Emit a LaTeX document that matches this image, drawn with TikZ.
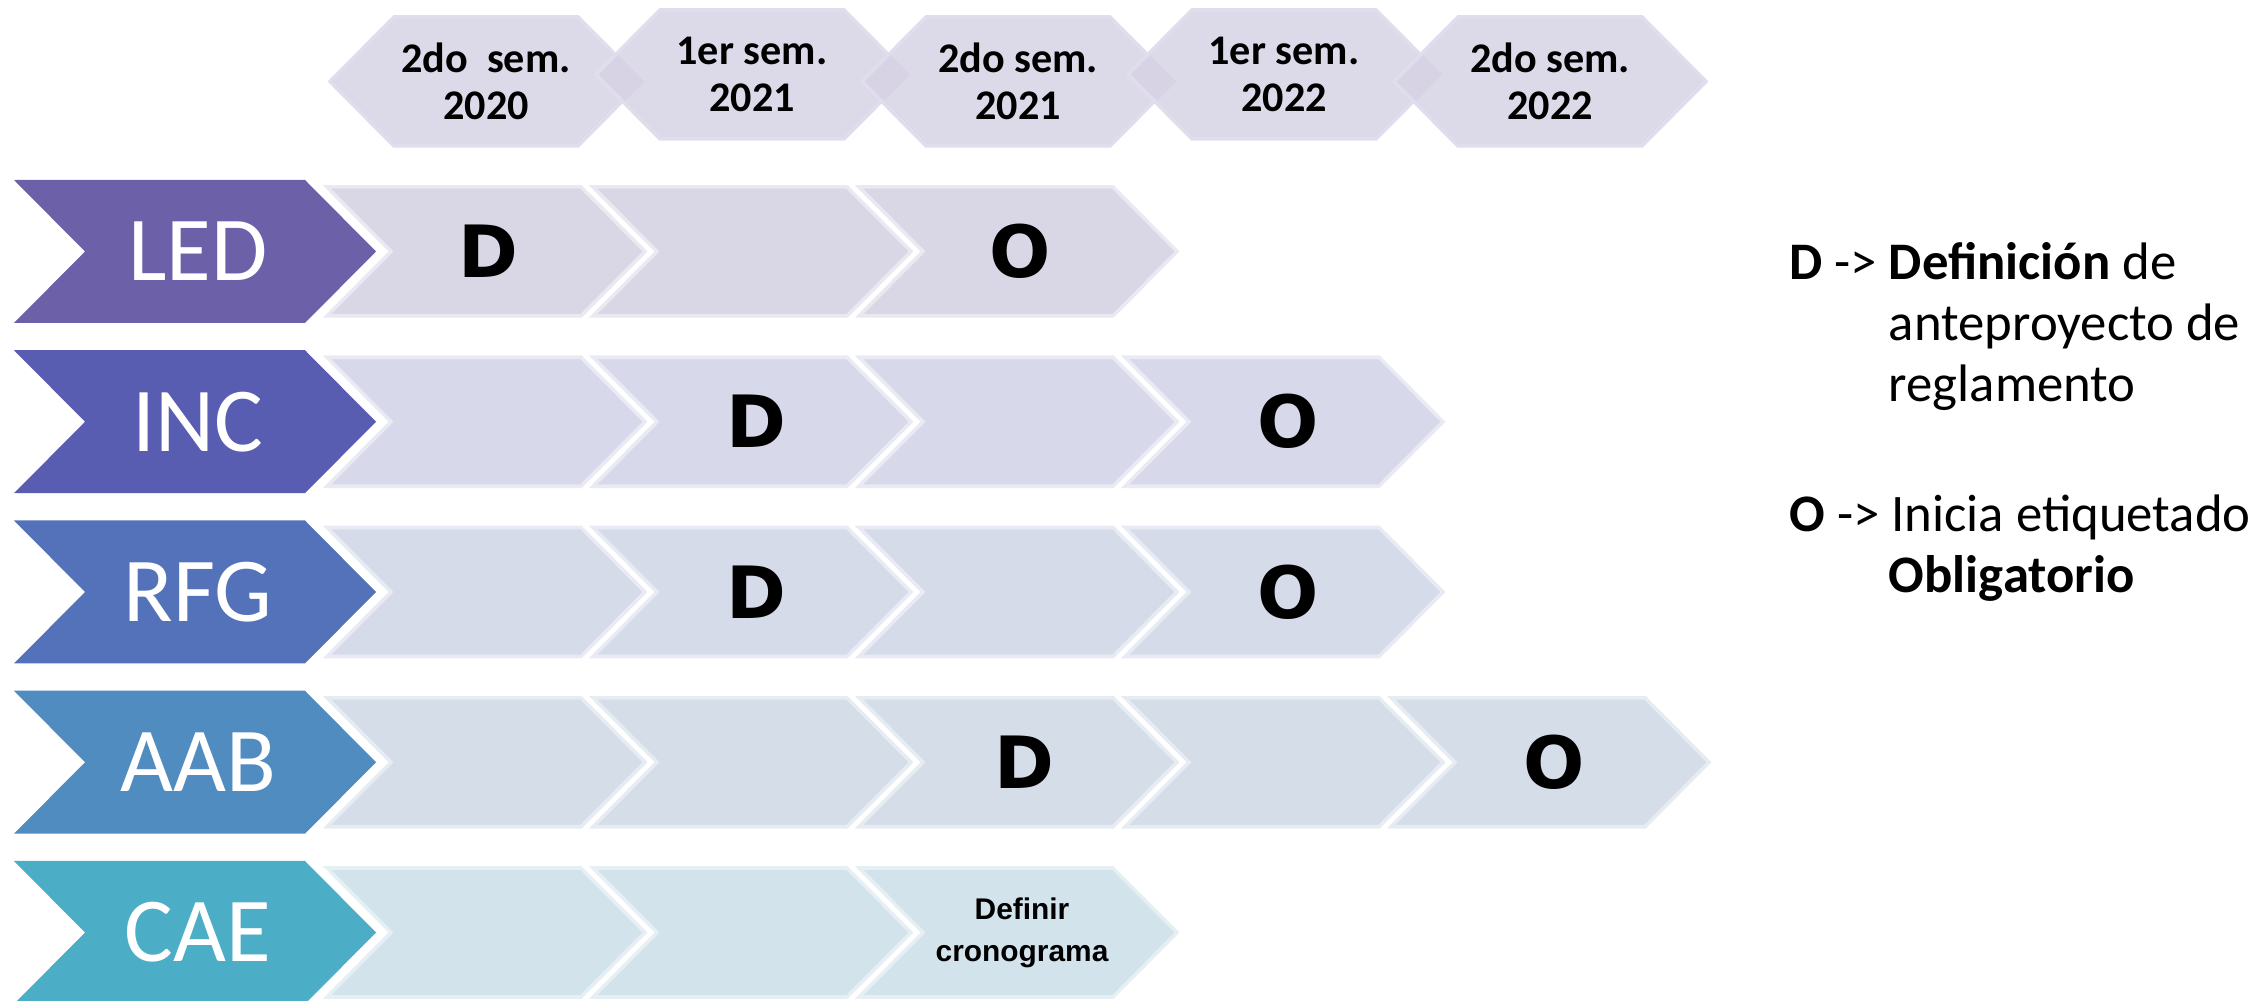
\documentclass[tikz,border=0pt]{standalone}
\usepackage{fontspec}
\setmainfont{Carlito}
\newfontfamily\letterfont{DejaVu Sans}
\newfontfamily\narrowfont{Liberation Sans}
\usepackage{tikz}
\usetikzlibrary{positioning}

\definecolor{hexfill}{RGB}{214,210,228}
\definecolor{hexline}{RGB}{224,221,236}
\definecolor{LEDlab}{RGB}{108,96,168}
\definecolor{INClab}{RGB}{89,93,177}
\definecolor{RFGlab}{RGB}{84,114,186}
\definecolor{AABlab}{RGB}{80,140,192}
\definecolor{CAElab}{RGB}{75,173,198}
\definecolor{LEDcell}{RGB}{217,214,230}
\definecolor{INCcell}{RGB}{215,216,233}
\definecolor{RFGcell}{RGB}{214,219,234}
\definecolor{AABcell}{RGB}{212,221,232}
\definecolor{CAEcell}{RGB}{210,227,235}

\begin{document}
\begin{tikzpicture}[x=0.01cm,y=-0.01cm,
    semhex/.style={fill=hexfill,fill opacity=0.85,draw=hexline,line width=1pt},
    labtext/.style={text=white,font=\fontsize{26}{30}\selectfont},
    legend/.style={font=\fontsize{15}{17.3}\selectfont}]
\useasboundingbox (0,0) rectangle (2264,1001);

% semester headers
\foreach \k/\t in {0/17,1/10,2/17,3/10,4/17} {
  \path[semhex] ({330+266*\k},{\t+64.5}) -- ++(64,-64.5) -- ++(184,0)
    -- ++(64,64.5) -- ++(-64,64.5) -- ++(-184,0) -- cycle;
}
\begin{scope}[every node/.style={align=center,font=\bfseries\fontsize{12}{13.3}\selectfont}]
  \node (s1) at (486,81.5) {2do~~sem.\\2020};
  \node (s2) at (752,74.5) {1er sem.\\2021};
  \node (s3) at (1018,81.5) {2do sem.\\2021};
  \node (s4) at (1284,74.5) {1er sem.\\2022};
  \node (s5) at (1550,81.5) {2do sem.\\2022};
\end{scope}

% rows
\foreach \n/\r/\c in {LED/0/3,INC/1/4,RFG/2/4,AAB/3/5,CAE/4/3} {
  \pgfmathsetmacro\T{180+170.25*\r}
  \fill[\n lab] (14,\T) -- ++(291,0) -- ++(71,71.5) -- ++(-71,71.5)
    -- ++(-291,0) -- ++(71,-71.5) -- cycle;
  \foreach \k in {1,...,\c} {
    \path[fill=\n cell,draw=\n cell!55!white,line width=1pt]
      ({327+266*(\k-1)},{\T+7}) -- ++(254,0) -- ++(64,64.5) -- ++(-64,64.5)
      -- ++(-254,0) -- ++(64,-64.5) -- cycle;
  }
  \node[labtext] (lab\n) at (198,{\T+71.5}) {\n};
}

\begin{scope}[every node/.style={font=\letterfont\bfseries\fontsize{20.5}{24}\selectfont}]
  \node (ledD) at (488,251.5) {D};
  \node (ledO) at (1020,251.5) {O};
  \node (incD) at (756,421.5) {D};
  \node (incO) at (1288,421.5) {O};
  \node (rfgD) at (756,592) {D};
  \node (rfgO) at (1288,592) {O};
  \node (aabD) at (1024,762.5) {D};
  \node (aabO) at (1554,762.5) {O};
\end{scope}
\node[align=center,font=\narrowfont\bfseries\fontsize{8.5}{12}\selectfont] (caeDef) at (1022,933) {Definir\\cronograma};

% legend
\node[legend,anchor=base west] (legend) at (1777,280) {\begin{tabular}[t]{@{}l@{\ }l@{}}
\textbf{D} -> & \textbf{Definición} de\\
 & anteproyecto de\\
 & reglamento\\[0.69cm]
\multicolumn{2}{@{}l@{}}{\textbf{O} -> Inicia etiquetado}\\
 & \textbf{Obligatorio}
\end{tabular}};
\end{tikzpicture}
\end{document}
